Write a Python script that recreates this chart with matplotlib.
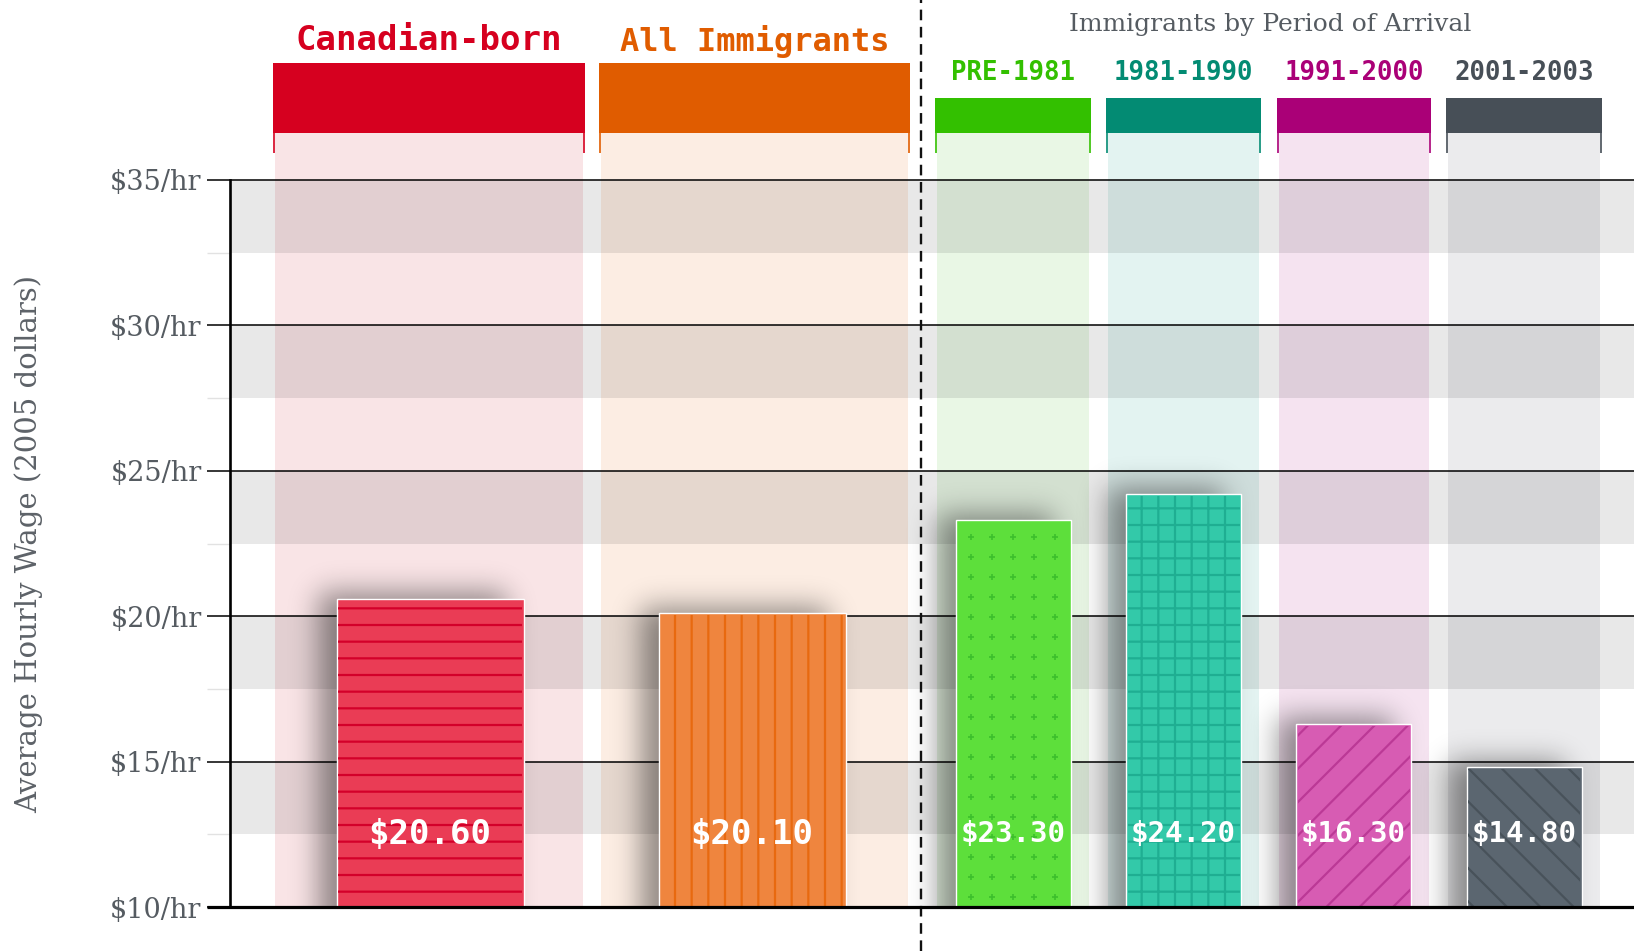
import numpy as np
import matplotlib
matplotlib.use("Agg")
import matplotlib.pyplot as plt

# ---------------- data ----------------
groups = ["Canadian-born", "All Immigrants", "PRE-1981", "1981-1990", "1991-2000", "2001-2003"]
wages = [20.60, 20.10, 23.30, 24.20, 16.30, 14.80]
value_labels = ["$20.60", "$20.10", "$23.30", "$24.20", "$16.30", "$14.80"]
yticks = [10, 15, 20, 25, 30, 35]
ytick_labels = ["$10/hr", "$15/hr", "$20/hr", "$25/hr", "$30/hr", "$35/hr"]
group_title = "Immigrants by Period of Arrival"
ylabel = "Average Hourly Wage (2005 dollars)"

# ---------------- style ----------------
head_colors = ["#d6001f", "#e05c00", "#33c000", "#038b73", "#aa0077", "#474f57"]
col_colors = ["#f9e4e6", "#fcede3", "#e9f7e5", "#e3f3f1", "#f5e3f0", "#ebebed"]
bar_colors = ["#ea3c55", "#ef853e", "#5ddf3b", "#33c9a9", "#d75cb3", "#5b6670"]
hatch_colors = ["#d3002a", "#e8690f", "#3cbf2c", "#1fae92", "#bb3996", "#48525a"]
hatches = ["-", "|", None, "+", "/", "\\"]

# layout (pixel units on x)
col_left = [273, 599, 935, 1106, 1277, 1446]
col_right = [585, 910, 1091, 1261, 1431, 1602]
bar_cx = [430, 752, 1013, 1183.5, 1353.5, 1524]
bar_w = [187, 187, 115, 115, 115, 115]
head_top_px = [62.5, 62.5, 98, 98, 98, 98]
label_y_px = [40, 42, 73, 73, 73, 73]
label_fs = [24.5, 23, 18.5, 18.5, 18.5, 18.5]
val_fs = [24.5, 24.5, 21, 21, 21, 21]

W, H = 1634, 951
PPU = 29.08  # pixels per dollar
Y0_PX = 907


def py(ypx):
    return 10 + (Y0_PX - ypx) / PPU


fig = plt.figure(figsize=(W / 100, H / 100), dpi=100)
ax = fig.add_axes([230 / W, (H - Y0_PX) / H, (W - 230) / W, Y0_PX / H])
ax.set_xlim(230, W)
ax.set_ylim(10, py(0))
plt.rcParams['hatch.linewidth'] = 1.6

# columns + header blocks
for i in range(len(groups)):
    l, r = col_left[i], col_right[i]
    ax.fill_between([l + 2, r - 2], 10, py(133), color=col_colors[i], lw=0, zorder=1)
    ax.fill_between([l, r], py(133), py(head_top_px[i]), color=head_colors[i], lw=0, zorder=5)
    for xx in (l + 1, r - 1):
        ax.plot([xx, xx], [py(133), py(153)], color=head_colors[i], lw=1.2, zorder=5,
                solid_capstyle='butt')
    ax.text((l + r) / 2, py(label_y_px[i]), groups[i], color=head_colors[i],
            fontsize=label_fs[i], fontweight='bold', family='DejaVu Sans Mono',
            ha='center', va='center', zorder=8, clip_on=False)

ax.text(1270, py(24), group_title, color="#555b61",
        fontsize=18, family='DejaVu Serif', ha='center', va='center', zorder=8)

# grey bands
for y0 in [12.5, 17.5, 22.5, 27.5, 32.5]:
    ax.axhspan(y0, y0 + 2.5, color='black', alpha=0.09, lw=0, zorder=2)

# gridlines
for t in yticks[1:]:
    ax.axhline(t, color='black', lw=1.1, zorder=3)

# shadows
def blur1d(n, a, b, sigma):
    m = np.zeros(n)
    m[a:b] = 1.0
    k = np.arange(-3 * sigma, 3 * sigma + 1)
    g = np.exp(-0.5 * (k / sigma) ** 2)
    g /= g.sum()
    return np.convolve(m, g, mode='same')

for i in range(len(groups)):
    pad = 70
    sig = 14
    x0 = bar_cx[i] - bar_w[i] / 2
    x1 = bar_cx[i] + bar_w[i] / 2
    top_px = Y0_PX - (wages[i] - 10) * PPU
    ex0, ex1 = x0 - pad, x1 + pad
    ey_top_px, ey_bot_px = top_px - pad, Y0_PX + pad
    nx = int(ex1 - ex0)
    ny = int(ey_bot_px - ey_top_px)
    dx, dy = -18, -6
    fx = blur1d(nx, int(pad + dx), int(pad + dx + bar_w[i]), sig)
    fy = blur1d(ny, int(pad + dy), ny + 50, sig)
    mask = np.outer(fy, fx) * 0.42
    img = np.zeros((ny, nx, 4))
    img[..., 3] = mask
    ax.imshow(img, extent=[ex0, ex1, py(ey_bot_px), py(ey_top_px)], origin='upper',
              aspect='auto', interpolation='bilinear', zorder=4)
ax.set_xlim(230, W)
ax.set_ylim(10, py(0))

# bars
heights = [w - 10 for w in wages]
ax.bar(bar_cx, heights, bottom=10, width=bar_w, color=bar_colors, edgecolor='white',
       lw=1.0, zorder=5)
inset = 2.0 / PPU
for i in range(len(groups)):
    if hatches[i]:
        ax.bar(bar_cx[i], heights[i] - inset, bottom=10, width=bar_w[i] - 3, color='none',
               edgecolor=hatch_colors[i], lw=0, hatch=hatches[i], zorder=6)

# PRE-1981 plus pattern
i = 2
xs = bar_cx[i] + np.arange(-2, 3) * 21
ys = np.arange(10 + 10 / PPU, wages[i] - 0.4, 20 / PPU)
gx, gy = np.meshgrid(xs, ys)
ax.scatter(gx.ravel(), gy.ravel(), marker='+', s=22, color=hatch_colors[i], lw=1.2, zorder=6)

# value labels
for i in range(len(groups)):
    ax.text(bar_cx[i], 12.5, value_labels[i], color='white', fontsize=val_fs[i],
            fontweight='bold', family='DejaVu Sans Mono', ha='center', va='center', zorder=7)

# dashed separator
ax.plot([921, 921], [py(H), py(0)], color='#111111', lw=1.7, dashes=(4.5, 2.8),
        clip_on=False, zorder=8)

# axes styling
for s in ['top', 'right', 'bottom']:
    ax.spines[s].set_visible(False)
ax.spines['left'].set_bounds(10, 35)
ax.spines['left'].set_linewidth(1.9)
ax.spines['left'].set_zorder(9)
ax.plot([207, W], [10, 10], color='black', lw=2.3, clip_on=False, zorder=9,
        solid_capstyle='butt')
ax.set_xticks([])
ax.set_yticks(yticks)
ax.set_yticklabels(ytick_labels, family='DejaVu Serif', fontsize=19.5, color='#555b61')
ax.set_yticks([12.5, 17.5, 22.5, 27.5, 32.5], minor=True)
ax.tick_params(axis='y', which='major', length=16.5, width=1.1, color='black', pad=4)
ax.tick_params(axis='y', which='minor', length=16.5, width=1.0, color='#e2e2e2')

fig.text(29 / W, 1 - 544 / H, ylabel, rotation=90, family='DejaVu Serif', fontsize=21,
         color='#5d6268', ha='center', va='center')

fig.savefig("out.png", dpi=100)
